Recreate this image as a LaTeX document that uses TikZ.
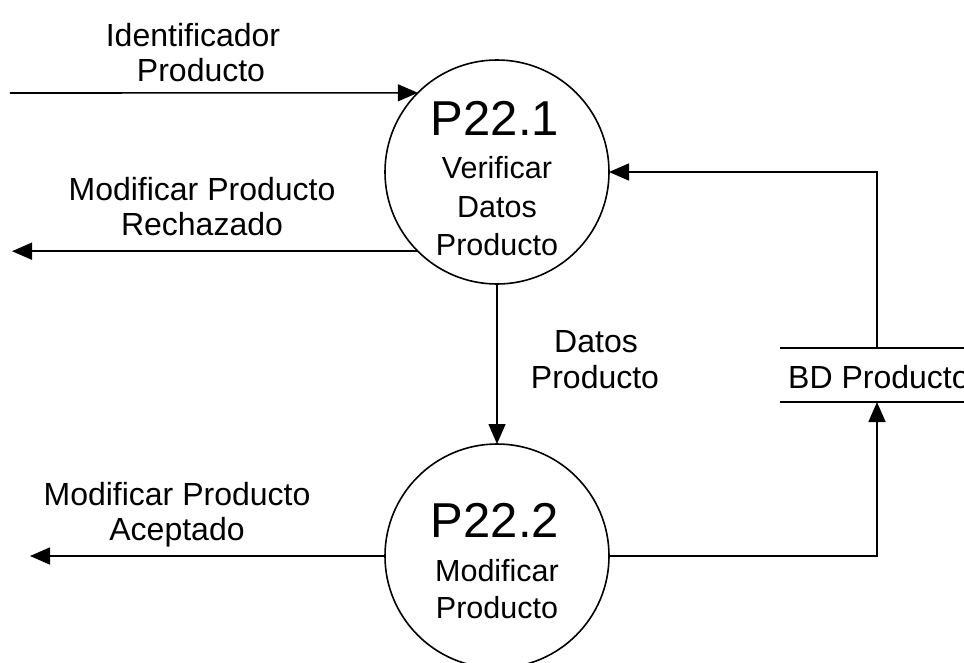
\documentclass[tikz,border=0pt]{standalone}
\usepackage{fontspec}
\setmainfont{Liberation Sans}
\usetikzlibrary{arrows.meta}
\begin{document}
\begin{tikzpicture}[x=1pt,y=-1pt,
  flow/.style={line width=1.6pt, -{Triangle[length=20pt,width=17pt]}},
  link/.style={line width=1.6pt},
  proc/.style={circle, draw, line width=1.6pt, minimum size=224pt, inner sep=0pt, outer sep=0pt},
  lbl/.style={font=\fontsize{30.5}{35}\selectfont, anchor=base, inner sep=0pt},
  flbl/.style={font=\fontsize{32}{36}\selectfont, anchor=base, inner sep=0pt},
  big/.style={font=\fontsize{49}{55}\selectfont, anchor=base, inner sep=0pt},
  storebox/.style={minimum width=200pt, minimum height=54pt, inner sep=0pt, outer sep=0pt, anchor=west}]
\useasboundingbox (0,0) rectangle (964,662);

% processes
\node[proc] (p1) at (497,172) {};
\node[proc] (p2) at (497,556) {};

\node[big] (p1id) at (495,135) {P22.1};
\node[lbl] (p1a) at (497,178) {Verificar};
\node[lbl] (p1b) at (497,217) {Datos};
\node[lbl] (p1c) at (497,255) {Producto};

\node[big] (p2id) at (495,537) {P22.2};
\node[lbl] (p2a) at (497,581) {Modificar};
\node[lbl] (p2b) at (497,618) {Producto};

% data store
\node[storebox] (store) at (780,375) {};
\node[flbl, anchor=base west] (storetxt) at (788,388) {BD Producto};
\draw[link] (store.north west) -- (store.north east);
\draw[link] (store.south west) -- (store.south east);

% flow end points
\coordinate (src) at (10,93);
\coordinate (rej) at (12,0);
\coordinate (acc) at (30,0);
\coordinate (c1) at (877,172);
\coordinate (c2) at (877,556);

% flows
\draw[flow] (src) -- (p1.135);
\draw[flow] (p1.225) -- (p1.225 -| rej);
\draw[flow] (p1.south) -- (p2.north);
\draw[flow] (p2.west) -- (p2.west -| acc);
\draw[flow] (p2.east) -- (c2) -- (c2 |- store.south);
\draw[flow] (c1 |- store.north) -- (c1) -- (p1.east);

% flow labels
\node[flbl] (l1a) at (193,46) {Identificador};
\node[flbl] (l1b) at (201,81) {Producto};
\node[flbl] (l2a) at (202,200) {Modificar Producto};
\node[flbl] (l2b) at (202,235) {Rechazado};
\node[flbl] (l3a) at (596,352) {Datos};
\node[flbl] (l3b) at (595,388) {Producto};
\node[flbl] (l4a) at (177,505) {Modificar Producto};
\node[flbl] (l4b) at (177,540) {Aceptado};
\end{tikzpicture}
\end{document}
